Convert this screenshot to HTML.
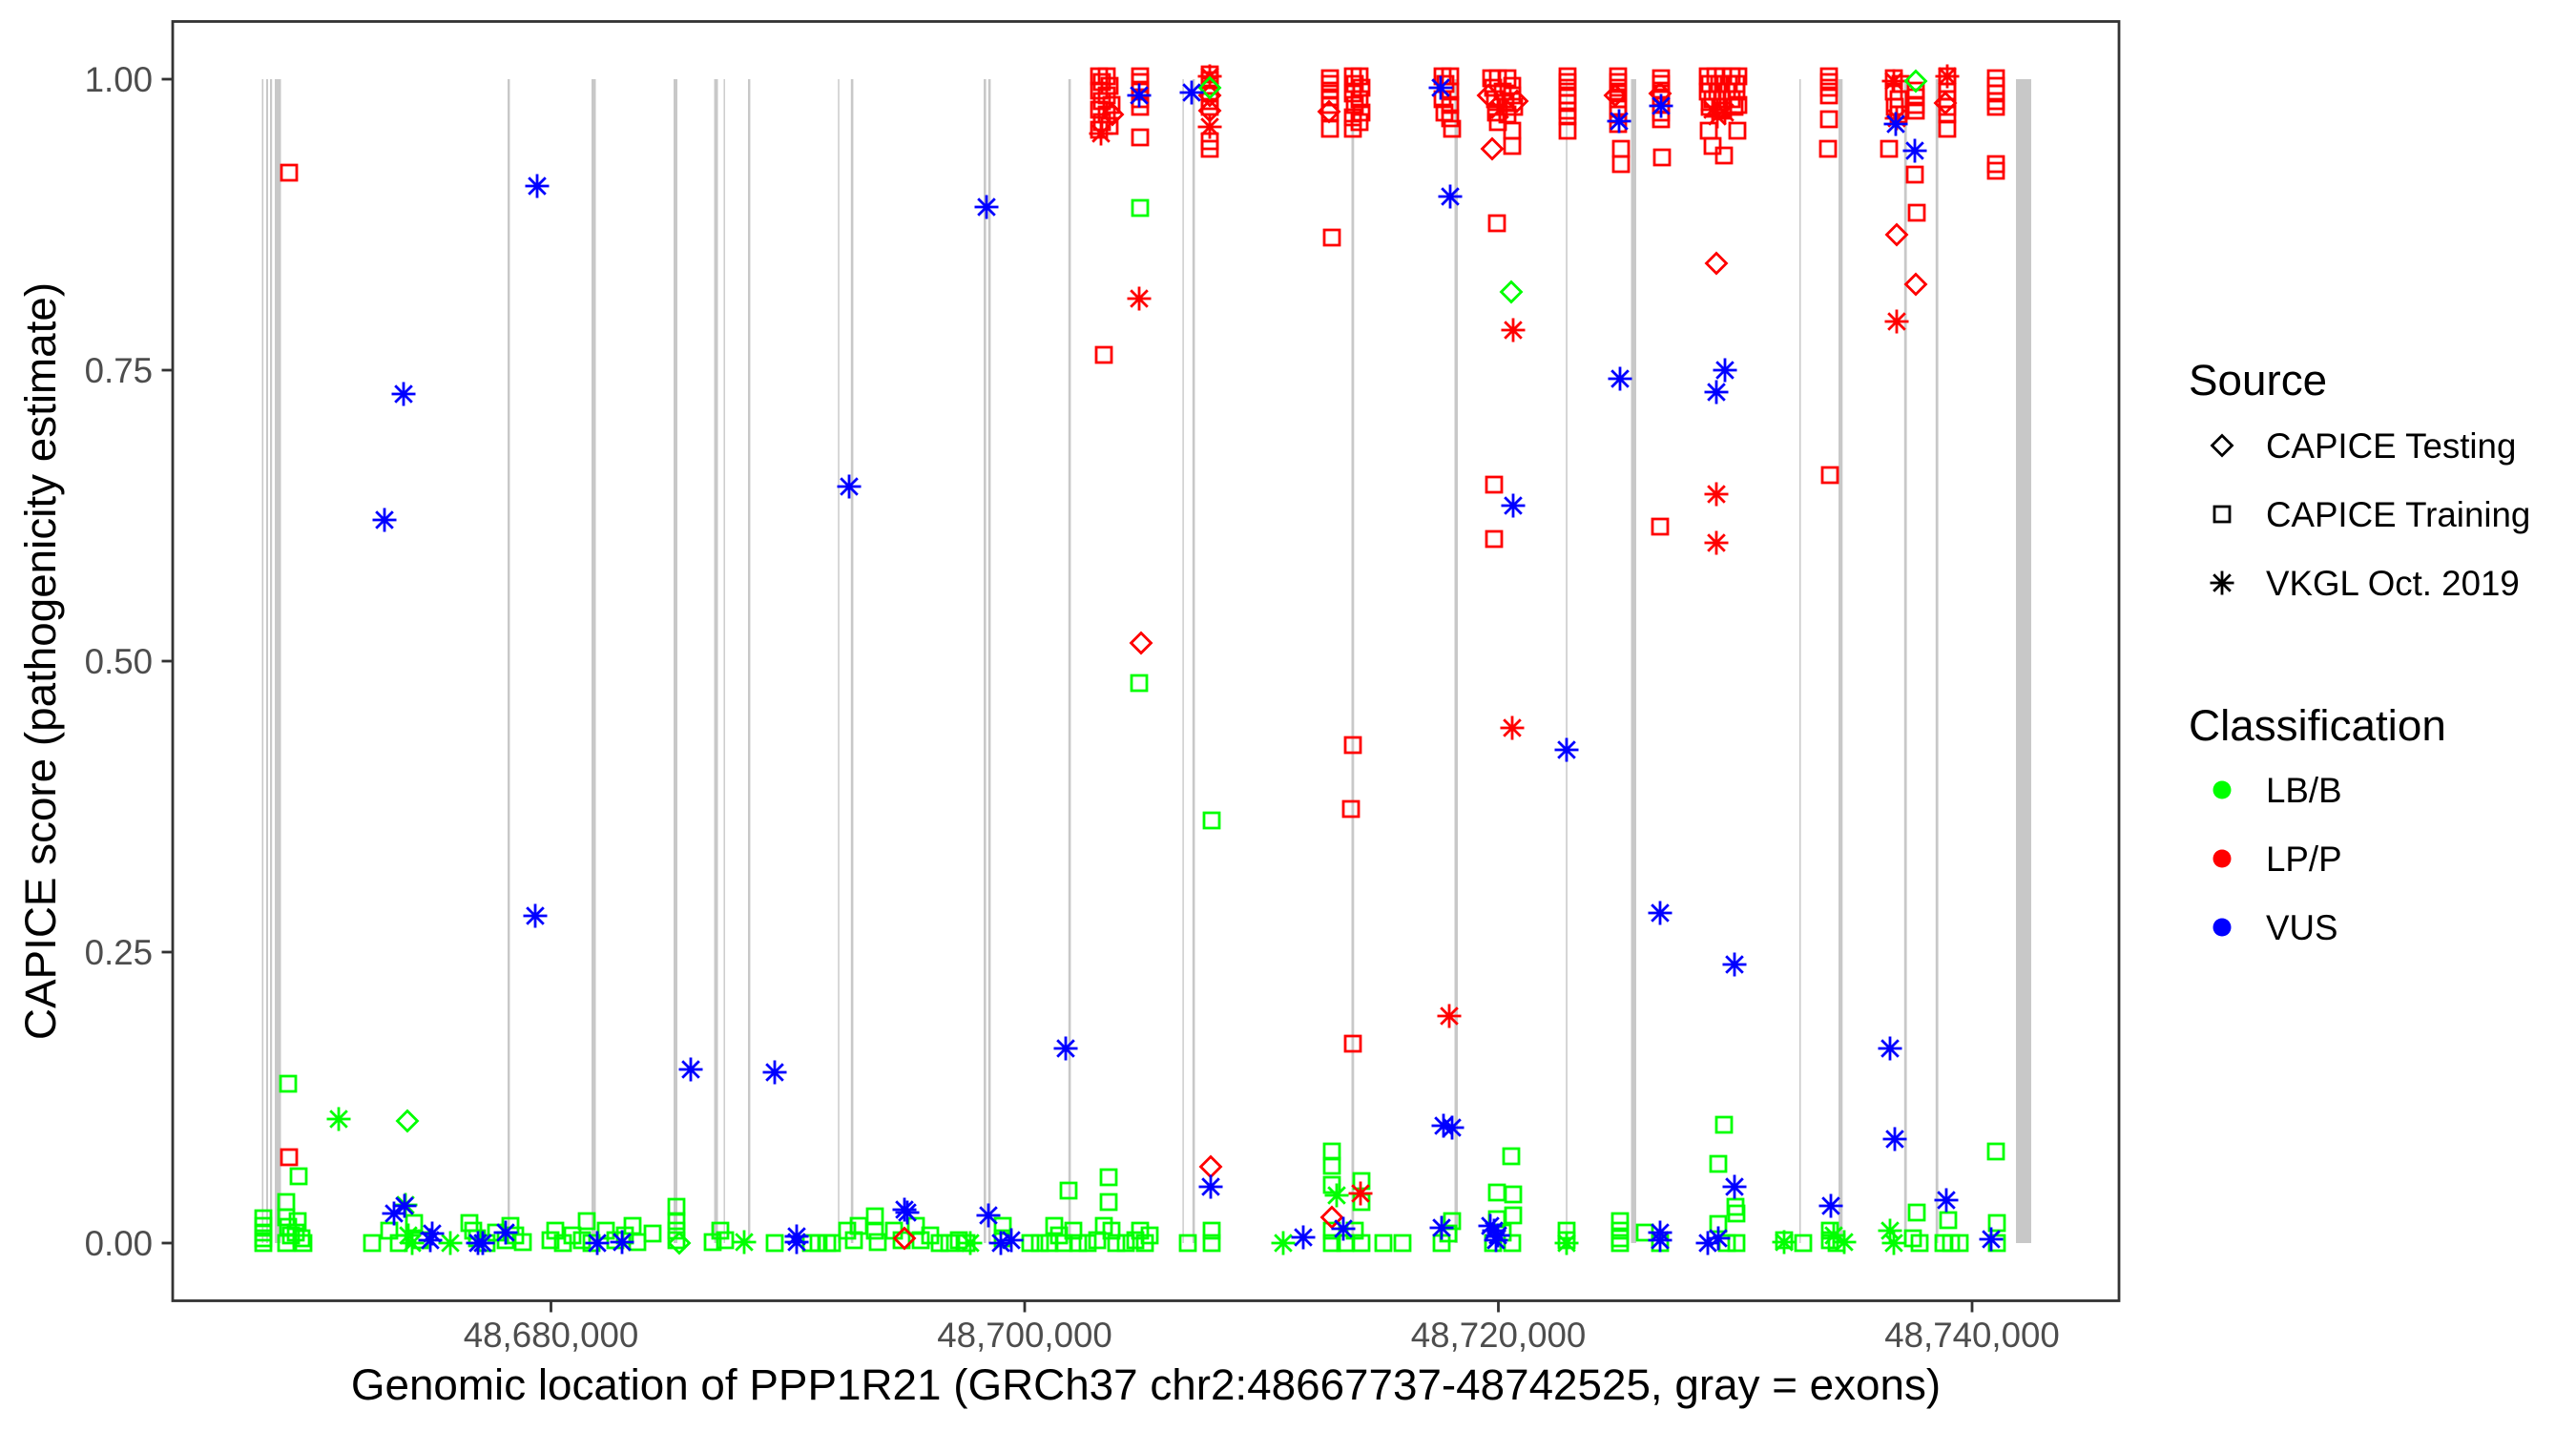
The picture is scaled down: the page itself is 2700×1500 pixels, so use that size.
<!DOCTYPE html>
<html><head><meta charset="utf-8"><style>
html,body{margin:0;padding:0;background:#fff}
svg{display:block}
text{font-family:"Liberation Sans",Arial,sans-serif}
</style></head><body>
<svg width="2700" height="1500" viewBox="0 0 2700 1500" xmlns="http://www.w3.org/2000/svg">
<defs>
<path id="q" d="M-8,-8h16v16h-16z" fill="none" stroke-width="2.8"/>
<path id="d" d="M0,-10.5L10.5,0L0,10.5L-10.5,0z" fill="none" stroke-width="2.8"/>
<path id="s" d="M0,-12.5V12.5M-12.5,0H12.5M-8.8,-8.8L8.8,8.8M-8.8,8.8L8.8,-8.8" fill="none" stroke-width="2.8"/>
</defs>
<rect width="2700" height="1500" fill="#fff"/>
<!-- exons -->
<g fill="#C8C8C8">
<rect x="274.5" y="83" width="1.6" height="1220"/>
<rect x="279" y="83" width="2" height="1220"/>
<rect x="283" y="83" width="2.2" height="1220"/>
<rect x="288" y="83" width="6.5" height="1220"/>
<rect x="532" y="83" width="2.4" height="1220"/>
<rect x="620" y="83" width="4.5" height="1220"/>
<rect x="706" y="83" width="4" height="1220"/>
<rect x="748.5" y="83" width="4" height="1220"/>
<rect x="758.5" y="83" width="1.4" height="1220"/>
<rect x="784" y="83" width="2.4" height="1220"/>
<rect x="878.3" y="83" width="1.4" height="1220"/>
<rect x="891.8" y="83" width="2.6" height="1220"/>
<rect x="1031" y="83" width="2.6" height="1220"/>
<rect x="1035.8" y="83" width="2.6" height="1220"/>
<rect x="1119.8" y="83" width="2.6" height="1220"/>
<rect x="1239.4" y="83" width="1.4" height="1220"/>
<rect x="1249.8" y="83" width="2.6" height="1220"/>
<rect x="1416.5" y="83" width="2.8" height="1220"/>
<rect x="1524.5" y="83" width="3.5" height="1220"/>
<rect x="1641.3" y="83" width="1.5" height="1220"/>
<rect x="1709.5" y="83" width="5.5" height="1220"/>
<rect x="1886" y="83" width="1.5" height="1220"/>
<rect x="1927" y="83" width="4.3" height="1220"/>
<rect x="1995.8" y="83" width="2.8" height="1220"/>
<rect x="2028.8" y="83" width="2.8" height="1220"/>
<rect x="2113" y="83" width="16" height="1220"/>
</g>

<!-- green (LB/B) bottom -->
<g stroke="#00FF00">
<use href="#q" x="276" y="1277"/><use href="#q" x="276" y="1285"/><use href="#q" x="276" y="1292"/><use href="#q" x="276" y="1298"/><use href="#q" x="276" y="1303"/>
<use href="#q" x="300" y="1260"/><use href="#q" x="300" y="1276"/><use href="#q" x="302" y="1286"/><use href="#q" x="305" y="1295"/><use href="#q" x="300" y="1303"/>
<use href="#q" x="312" y="1280"/><use href="#q" x="310" y="1292"/><use href="#q" x="316" y="1298"/><use href="#q" x="318" y="1303"/><use href="#q" x="313" y="1233"/>
<use href="#q" x="302" y="1136"/>
<use href="#s" x="355" y="1173"/><use href="#d" x="427" y="1175"/>
<use href="#q" x="390" y="1303"/><use href="#q" x="408" y="1290"/><use href="#q" x="418" y="1303"/><use href="#q" x="434" y="1282"/><use href="#q" x="440" y="1300"/>
<use href="#s" x="425" y="1263"/><use href="#s" x="428" y="1295"/><use href="#s" x="432" y="1303"/><use href="#s" x="472" y="1303"/>
<use href="#q" x="492" y="1282"/><use href="#q" x="496" y="1290"/><use href="#q" x="500" y="1298"/><use href="#q" x="510" y="1303"/><use href="#q" x="520" y="1292"/><use href="#q" x="530" y="1300"/><use href="#q" x="540" y="1295"/><use href="#q" x="548" y="1302"/><use href="#q" x="535" y="1285"/>
<use href="#q" x="577" y="1300"/><use href="#q" x="582" y="1290"/><use href="#q" x="590" y="1303"/><use href="#q" x="600" y="1295"/><use href="#q" x="610" y="1300"/><use href="#q" x="615" y="1280"/><use href="#q" x="620" y="1303"/>
<use href="#q" x="635" y="1290"/><use href="#q" x="645" y="1300"/><use href="#q" x="655" y="1295"/><use href="#q" x="663" y="1285"/><use href="#q" x="668" y="1302"/><use href="#q" x="684" y="1293"/>
<use href="#q" x="709" y="1265"/><use href="#q" x="709" y="1280"/><use href="#q" x="709" y="1290"/><use href="#q" x="709" y="1300"/><use href="#d" x="712" y="1303"/>
<use href="#q" x="747" y="1302"/><use href="#q" x="755" y="1290"/><use href="#q" x="760" y="1300"/><use href="#s" x="780" y="1302"/><use href="#q" x="812" y="1303"/>
<use href="#q" x="850" y="1303"/><use href="#q" x="858" y="1303"/><use href="#q" x="867" y="1303"/>
<use href="#q" x="872" y="1303"/><use href="#q" x="888" y="1290"/><use href="#q" x="895" y="1300"/><use href="#q" x="900" y="1285"/><use href="#q" x="917" y="1275"/><use href="#q" x="917" y="1290"/><use href="#q" x="920" y="1302"/>
<use href="#q" x="937" y="1290"/><use href="#q" x="945" y="1300"/><use href="#q" x="960" y="1285"/><use href="#q" x="965" y="1300"/><use href="#q" x="975" y="1295"/><use href="#q" x="985" y="1303"/><use href="#q" x="995" y="1303"/><use href="#q" x="1005" y="1300"/><use href="#q" x="1013" y="1303"/><use href="#s" x="1017" y="1303"/>
<use href="#q" x="1051" y="1285"/><use href="#q" x="1051" y="1298"/>
<use href="#q" x="1080" y="1303"/><use href="#q" x="1090" y="1303"/><use href="#q" x="1100" y="1303"/><use href="#q" x="1105" y="1285"/><use href="#q" x="1110" y="1295"/><use href="#q" x="1115" y="1303"/><use href="#q" x="1120" y="1248"/><use href="#q" x="1125" y="1290"/><use href="#q" x="1130" y="1303"/><use href="#q" x="1140" y="1303"/><use href="#q" x="1150" y="1300"/><use href="#q" x="1157" y="1285"/><use href="#q" x="1162" y="1234"/><use href="#q" x="1162" y="1260"/><use href="#q" x="1165" y="1290"/><use href="#q" x="1170" y="1303"/><use href="#q" x="1180" y="1303"/><use href="#q" x="1190" y="1300"/><use href="#q" x="1195" y="1290"/><use href="#q" x="1200" y="1303"/><use href="#q" x="1205" y="1295"/>
<use href="#q" x="1245" y="1303"/><use href="#q" x="1270" y="1290"/><use href="#q" x="1270" y="1303"/>
<use href="#s" x="1345" y="1303"/>
<use href="#q" x="1396" y="1207"/><use href="#q" x="1396" y="1222"/><use href="#q" x="1396" y="1242"/><use href="#q" x="1396" y="1290"/><use href="#q" x="1396" y="1303"/><use href="#s" x="1401" y="1253"/>
<use href="#q" x="1427" y="1238"/><use href="#q" x="1427" y="1260"/><use href="#q" x="1410" y="1303"/><use href="#q" x="1420" y="1290"/><use href="#q" x="1427" y="1303"/><use href="#q" x="1450" y="1303"/><use href="#q" x="1470" y="1303"/>
<use href="#q" x="1511" y="1303"/><use href="#q" x="1518" y="1293"/><use href="#q" x="1522" y="1280"/>
<use href="#q" x="1584" y="1212"/><use href="#q" x="1569" y="1250"/><use href="#q" x="1586" y="1252"/><use href="#q" x="1586" y="1274"/><use href="#q" x="1569" y="1278"/><use href="#q" x="1575" y="1292"/><use href="#q" x="1585" y="1303"/><use href="#q" x="1565" y="1303"/>
<use href="#q" x="1642" y="1290"/><use href="#q" x="1642" y="1300"/><use href="#s" x="1642" y="1303"/>
<use href="#q" x="1698" y="1280"/><use href="#q" x="1698" y="1290"/><use href="#q" x="1698" y="1298"/><use href="#q" x="1698" y="1303"/><use href="#q" x="1724" y="1292"/><use href="#q" x="1740" y="1303"/>
<use href="#q" x="1807" y="1179"/><use href="#q" x="1801" y="1220"/><use href="#q" x="1819" y="1265"/><use href="#q" x="1820" y="1272"/><use href="#q" x="1801" y="1283"/><use href="#q" x="1820" y="1303"/><use href="#q" x="1810" y="1303"/>
<use href="#q" x="1870" y="1300"/><use href="#s" x="1870" y="1302"/><use href="#q" x="1890" y="1303"/>
<use href="#q" x="1918" y="1290"/><use href="#q" x="1918" y="1300"/><use href="#q" x="1925" y="1303"/><use href="#s" x="1933" y="1302"/><use href="#s" x="1922" y="1295"/>
<use href="#s" x="1981" y="1290"/><use href="#s" x="1985" y="1303"/><use href="#q" x="2009" y="1271"/><use href="#q" x="2005" y="1298"/><use href="#q" x="2012" y="1303"/>
<use href="#q" x="2042" y="1279"/><use href="#q" x="2037" y="1303"/><use href="#q" x="2045" y="1303"/><use href="#q" x="2054" y="1303"/>
<use href="#q" x="2092" y="1207"/><use href="#q" x="2093" y="1282"/><use href="#q" x="2093" y="1303"/>
<!-- green mid -->
<use href="#q" x="1195" y="218"/><use href="#q" x="1194" y="716"/><use href="#q" x="1270" y="860"/><use href="#d" x="1584" y="306"/>
</g>

<!-- red (LP/P) -->
<g stroke="#FF0000">
<use href="#q" x="303" y="181"/><use href="#q" x="303" y="1213"/>
<use href="#d" x="948" y="1298"/><use href="#d" x="1269" y="1223"/><use href="#d" x="1396" y="1276"/><use href="#s" x="1426" y="1251"/>
<use href="#q" x="1157" y="372"/><use href="#s" x="1194" y="313"/><use href="#d" x="1196" y="674"/>
<use href="#q" x="1396" y="249"/><use href="#q" x="1418" y="781"/><use href="#q" x="1416" y="848"/><use href="#q" x="1418" y="1094"/>
<use href="#s" x="1519" y="1065"/>
<use href="#q" x="1569" y="234"/><use href="#s" x="1586" y="346"/><use href="#q" x="1566" y="508"/><use href="#q" x="1566" y="565"/><use href="#s" x="1585" y="763"/>
<use href="#q" x="1740" y="552"/>
<use href="#d" x="1799" y="276"/><use href="#s" x="1799" y="518"/><use href="#s" x="1799" y="569"/>
<use href="#q" x="1918" y="498"/>
<use href="#d" x="1988" y="246"/><use href="#d" x="2008" y="298"/><use href="#s" x="1988" y="337"/>
<!-- top clusters -->
<use href="#q" x="1152" y="80"/><use href="#q" x="1160" y="80"/><use href="#q" x="1155" y="86"/><use href="#q" x="1163" y="90"/><use href="#q" x="1152" y="95"/><use href="#q" x="1160" y="100"/><use href="#q" x="1155" y="106"/><use href="#q" x="1165" y="110"/><use href="#q" x="1152" y="115"/><use href="#q" x="1160" y="120"/><use href="#q" x="1155" y="128"/><use href="#q" x="1163" y="132"/><use href="#q" x="1152" y="136"/><use href="#s" x="1154" y="140"/><use href="#d" x="1166" y="120"/>
<use href="#q" x="1195" y="80"/><use href="#q" x="1195" y="86"/><use href="#q" x="1195" y="94"/><use href="#q" x="1195" y="104"/><use href="#q" x="1195" y="112"/><use href="#q" x="1195" y="144"/>
<use href="#q" x="1268" y="78"/><use href="#q" x="1268" y="84"/><use href="#q" x="1268" y="90"/><use href="#q" x="1268" y="98"/><use href="#q" x="1268" y="106"/><use href="#q" x="1268" y="112"/><use href="#d" x="1268" y="100"/><use href="#d" x="1268" y="116"/><use href="#s" x="1268" y="133"/><use href="#q" x="1268" y="148"/><use href="#q" x="1268" y="156"/><use href="#s" x="1268" y="80"/>
<use href="#q" x="1394" y="82"/><use href="#q" x="1394" y="88"/><use href="#q" x="1394" y="95"/><use href="#q" x="1394" y="102"/><use href="#q" x="1394" y="110"/><use href="#q" x="1394" y="118"/><use href="#q" x="1394" y="135"/><use href="#d" x="1393" y="117"/>
<use href="#q" x="1418" y="80"/><use href="#q" x="1425" y="80"/><use href="#q" x="1420" y="88"/><use href="#q" x="1427" y="92"/><use href="#q" x="1418" y="98"/><use href="#q" x="1425" y="104"/><use href="#q" x="1420" y="110"/><use href="#q" x="1427" y="118"/><use href="#q" x="1418" y="123"/><use href="#q" x="1425" y="128"/><use href="#q" x="1418" y="135"/>
<use href="#q" x="1512" y="80"/><use href="#q" x="1520" y="80"/><use href="#q" x="1515" y="88"/><use href="#q" x="1520" y="96"/><use href="#q" x="1512" y="104"/><use href="#q" x="1520" y="110"/><use href="#q" x="1514" y="118"/><use href="#q" x="1520" y="124"/><use href="#q" x="1522" y="135"/>
<use href="#q" x="1563" y="82"/><use href="#q" x="1570" y="82"/><use href="#q" x="1580" y="82"/><use href="#q" x="1585" y="90"/><use href="#q" x="1565" y="92"/><use href="#q" x="1575" y="96"/><use href="#q" x="1585" y="100"/><use href="#q" x="1567" y="104"/><use href="#q" x="1578" y="108"/><use href="#q" x="1587" y="112"/><use href="#q" x="1568" y="118"/><use href="#q" x="1580" y="120"/><use href="#q" x="1570" y="128"/><use href="#q" x="1585" y="137"/><use href="#q" x="1585" y="153"/><use href="#d" x="1560" y="100"/><use href="#d" x="1590" y="106"/><use href="#d" x="1564" y="156"/><use href="#s" x="1572" y="115"/>
<use href="#q" x="1643" y="80"/><use href="#q" x="1643" y="86"/><use href="#q" x="1643" y="92"/><use href="#q" x="1643" y="100"/><use href="#q" x="1643" y="108"/><use href="#q" x="1643" y="116"/><use href="#q" x="1643" y="122"/><use href="#q" x="1643" y="137"/>
<use href="#q" x="1696" y="80"/><use href="#q" x="1696" y="86"/><use href="#q" x="1696" y="92"/><use href="#q" x="1696" y="98"/><use href="#q" x="1696" y="104"/><use href="#q" x="1696" y="112"/><use href="#q" x="1696" y="120"/><use href="#q" x="1696" y="130"/><use href="#q" x="1699" y="156"/><use href="#q" x="1699" y="172"/><use href="#d" x="1693" y="100"/>
<use href="#q" x="1741" y="82"/><use href="#q" x="1741" y="88"/><use href="#q" x="1741" y="95"/><use href="#q" x="1741" y="102"/><use href="#q" x="1741" y="110"/><use href="#q" x="1741" y="118"/><use href="#q" x="1741" y="125"/><use href="#q" x="1742" y="165"/><use href="#d" x="1740" y="98"/>
<use href="#q" x="1790" y="80"/><use href="#q" x="1798" y="80"/><use href="#q" x="1806" y="80"/><use href="#q" x="1815" y="80"/><use href="#q" x="1822" y="80"/><use href="#q" x="1792" y="88"/><use href="#q" x="1802" y="88"/><use href="#q" x="1812" y="88"/><use href="#q" x="1820" y="88"/><use href="#q" x="1790" y="96"/><use href="#q" x="1800" y="96"/><use href="#q" x="1810" y="96"/><use href="#q" x="1820" y="96"/><use href="#q" x="1795" y="104"/><use href="#q" x="1805" y="104"/><use href="#q" x="1815" y="104"/><use href="#q" x="1822" y="110"/><use href="#q" x="1792" y="112"/><use href="#q" x="1806" y="116"/><use href="#q" x="1818" y="112"/><use href="#q" x="1791" y="137"/><use href="#q" x="1821" y="137"/><use href="#q" x="1795" y="153"/><use href="#q" x="1807" y="163"/><use href="#s" x="1795" y="115"/><use href="#s" x="1808" y="118"/><use href="#s" x="1800" y="122"/>
<use href="#q" x="1917" y="80"/><use href="#q" x="1917" y="86"/><use href="#q" x="1917" y="92"/><use href="#q" x="1917" y="100"/><use href="#q" x="1917" y="125"/><use href="#q" x="1916" y="156"/>
<use href="#q" x="1985" y="82"/><use href="#q" x="1992" y="88"/><use href="#q" x="1985" y="96"/><use href="#q" x="1990" y="104"/><use href="#q" x="1986" y="112"/><use href="#q" x="1990" y="120"/><use href="#s" x="1985" y="85"/><use href="#s" x="1988" y="124"/><use href="#q" x="1980" y="156"/>
<use href="#q" x="2008" y="95"/><use href="#q" x="2008" y="102"/><use href="#q" x="2008" y="110"/><use href="#q" x="2008" y="116"/><use href="#q" x="2007" y="183"/><use href="#q" x="2009" y="223"/>
<use href="#q" x="2041" y="80"/><use href="#q" x="2041" y="88"/><use href="#q" x="2041" y="96"/><use href="#q" x="2041" y="104"/><use href="#q" x="2041" y="112"/><use href="#q" x="2041" y="120"/><use href="#q" x="2041" y="135"/><use href="#d" x="2039" y="108"/><use href="#s" x="2041" y="80"/>
<use href="#q" x="2092" y="82"/><use href="#q" x="2092" y="90"/><use href="#q" x="2092" y="98"/><use href="#q" x="2092" y="106"/><use href="#q" x="2092" y="112"/><use href="#q" x="2092" y="172"/><use href="#q" x="2092" y="179"/>
</g>

<!-- green top items drawn over red -->
<g stroke="#00FF00">
<use href="#d" x="1268" y="92"/><use href="#d" x="2008" y="85"/>
</g>

<!-- blue (VUS) -->
<g stroke="#0000FF">
<use href="#s" x="563" y="195"/><use href="#s" x="423" y="413"/><use href="#s" x="403" y="545"/><use href="#s" x="561" y="960"/>
<use href="#s" x="724" y="1121"/><use href="#s" x="812" y="1124"/><use href="#s" x="890" y="510"/><use href="#s" x="1034" y="217"/><use href="#s" x="1117" y="1099"/>
<use href="#s" x="1194" y="100"/><use href="#s" x="1249" y="97"/><use href="#s" x="1510" y="92"/><use href="#s" x="1520" y="206"/>
<use href="#s" x="1586" y="530"/><use href="#s" x="1642" y="786"/><use href="#s" x="1698" y="397"/><use href="#s" x="1697" y="127"/><use href="#s" x="1741" y="111"/><use href="#s" x="1740" y="957"/>
<use href="#s" x="1808" y="388"/><use href="#s" x="1799" y="411"/><use href="#s" x="1818" y="1011"/>
<use href="#s" x="1987" y="130"/><use href="#s" x="2007" y="158"/><use href="#s" x="1981" y="1099"/><use href="#s" x="1986" y="1194"/>
<use href="#s" x="1513" y="1180"/><use href="#s" x="1522" y="1182"/>
<!-- bottom -->
<use href="#s" x="413" y="1272"/><use href="#s" x="424" y="1264"/><use href="#s" x="453" y="1293"/><use href="#s" x="451" y="1300"/><use href="#s" x="501" y="1303"/><use href="#s" x="506" y="1303"/><use href="#s" x="530" y="1292"/>
<use href="#s" x="626" y="1303"/><use href="#s" x="652" y="1302"/><use href="#s" x="835" y="1296"/><use href="#s" x="835" y="1302"/>
<use href="#s" x="948" y="1268"/><use href="#s" x="951" y="1271"/><use href="#s" x="1036" y="1274"/><use href="#s" x="1049" y="1303"/><use href="#s" x="1060" y="1300"/>
<use href="#s" x="1269" y="1244"/><use href="#s" x="1366" y="1297"/><use href="#s" x="1408" y="1288"/><use href="#s" x="1511" y="1287"/>
<use href="#s" x="1562" y="1285"/><use href="#s" x="1566" y="1290"/><use href="#s" x="1570" y="1295"/><use href="#s" x="1568" y="1300"/>
<use href="#s" x="1740" y="1292"/><use href="#s" x="1740" y="1300"/>
<use href="#s" x="1818" y="1244"/><use href="#s" x="1790" y="1303"/><use href="#s" x="1801" y="1298"/>
<use href="#s" x="1919" y="1264"/><use href="#s" x="2040" y="1258"/><use href="#s" x="2087" y="1299"/>
</g>

<!-- panel border -->
<rect x="181" y="22.5" width="2040" height="1341" fill="none" stroke="#333333" stroke-width="2.8"/>

<!-- y ticks -->
<g stroke="#333333" stroke-width="2.8">
<line x1="169.5" y1="83" x2="181" y2="83"/>
<line x1="169.5" y1="388" x2="181" y2="388"/>
<line x1="169.5" y1="693" x2="181" y2="693"/>
<line x1="169.5" y1="998" x2="181" y2="998"/>
<line x1="169.5" y1="1303" x2="181" y2="1303"/>
<line x1="577.5" y1="1363" x2="577.5" y2="1375.5"/>
<line x1="1074" y1="1363" x2="1074" y2="1375.5"/>
<line x1="1570.5" y1="1363" x2="1570.5" y2="1375.5"/>
<line x1="2067" y1="1363" x2="2067" y2="1375.5"/>
</g>
<g fill="#4D4D4D" font-size="36.7" text-anchor="end">
<text x="160" y="96">1.00</text>
<text x="160" y="401">0.75</text>
<text x="160" y="706">0.50</text>
<text x="160" y="1011">0.25</text>
<text x="160" y="1316">0.00</text>
</g>
<g fill="#4D4D4D" font-size="36.7" text-anchor="middle">
<text x="577.5" y="1412">48,680,000</text>
<text x="1074" y="1412">48,700,000</text>
<text x="1570.5" y="1412">48,720,000</text>
<text x="2067" y="1412">48,740,000</text>
</g>
<text x="1201" y="1467" font-size="45.8" text-anchor="middle" fill="#000">Genomic location of PPP1R21 (GRCh37 chr2:48667737-48742525, gray = exons)</text>
<text transform="translate(58,693) rotate(-90)" font-size="45.8" text-anchor="middle" fill="#000">CAPICE score (pathogenicity estimate)</text>

<!-- legend -->
<text x="2294" y="414" font-size="45.8" fill="#000">Source</text>
<g stroke="#000">
<use href="#d" x="2329" y="467"/>
<use href="#q" x="2329" y="539"/>
<use href="#s" x="2329" y="611"/>
</g>
<g font-size="36.7" fill="#000">
<text x="2375" y="480">CAPICE Testing</text>
<text x="2375" y="552">CAPICE Training</text>
<text x="2375" y="624">VKGL Oct. 2019</text>
</g>
<text x="2294" y="776" font-size="45.8" fill="#000">Classification</text>
<circle cx="2329" cy="828" r="9.5" fill="#00FF00"/>
<circle cx="2329" cy="900" r="9.5" fill="#FF0000"/>
<circle cx="2329" cy="972" r="9.5" fill="#0000FF"/>
<g font-size="36.7" fill="#000">
<text x="2375" y="841">LB/B</text>
<text x="2375" y="913">LP/P</text>
<text x="2375" y="985">VUS</text>
</g>
</svg>
</body></html>
